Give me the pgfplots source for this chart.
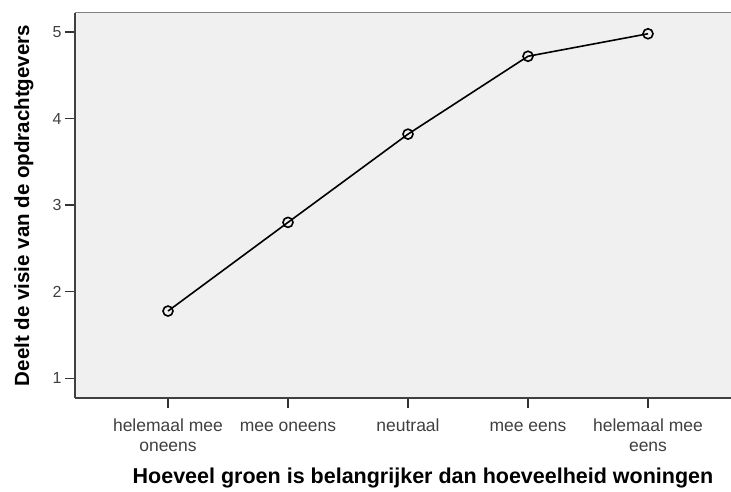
\documentclass[border=0pt]{standalone}
\usepackage{pgfplots}
\pgfplotsset{compat=1.18}
\usepackage{fontspec}
\setmainfont{Liberation Sans}
\definecolor{plotbg}{HTML}{F0F0F0}
\definecolor{ticktext}{HTML}{404040}
\begin{document}
\begin{tikzpicture}
\useasboundingbox (-75pt,-93pt) rectangle (656pt,398pt);
\begin{axis}[
	scale only axis,
	width=696pt, height=385pt,
	xmin=-0.775, xmax=5.025,
	ymin=0.77, ymax=5.22,
	axis x line=bottom, axis y line=left,
	axis line style={-, line width=1.2pt, black!75},
	axis background/.style={fill=plotbg},
	xtick={0,1,2,3,4},
	xticklabels={{\strut helemaal mee\\\strut oneens},{\strut mee oneens},{\strut neutraal},{\strut mee eens},{\strut helemaal mee\\\strut eens}},
	ytick={1,2,3,4,5},
	tick align=outside,
	major tick length=10pt,
	tick style={line width=1.2pt, black!80},
	x tick label style={align=center, anchor=north, yshift=-6pt, font=\fontsize{17.5}{20}\selectfont, text=ticktext},
	y tick label style={font=\fontsize{16}{18}\selectfont, text=ticktext},
	/pgf/number format/assume math mode=true,
	xlabel={\textbf{Hoeveel groen is belangrijker dan hoeveelheid woningen}},
	ylabel={\textbf{Deelt de visie van de opdrachtgevers}},
	label style={font=\fontsize{20.5}{24}\selectfont},
	xlabel style={font=\fontsize{21.5}{24}\selectfont, yshift=-4pt},
	ylabel style={at={(rel axis cs:0,0.5)}, yshift=38pt},
	after end axis/.code={\draw[gray, line width=1pt] (rel axis cs:0,1) -- (rel axis cs:1,1);},
	clip=false,
]
\addplot[black, line width=1.6pt, mark=o, mark size=5pt, mark options={line width=1.6pt}]
	coordinates {(0,1.775) (1,2.80) (2,3.82) (3,4.72) (4,4.98)};
\end{axis}
\end{tikzpicture}
\end{document}
